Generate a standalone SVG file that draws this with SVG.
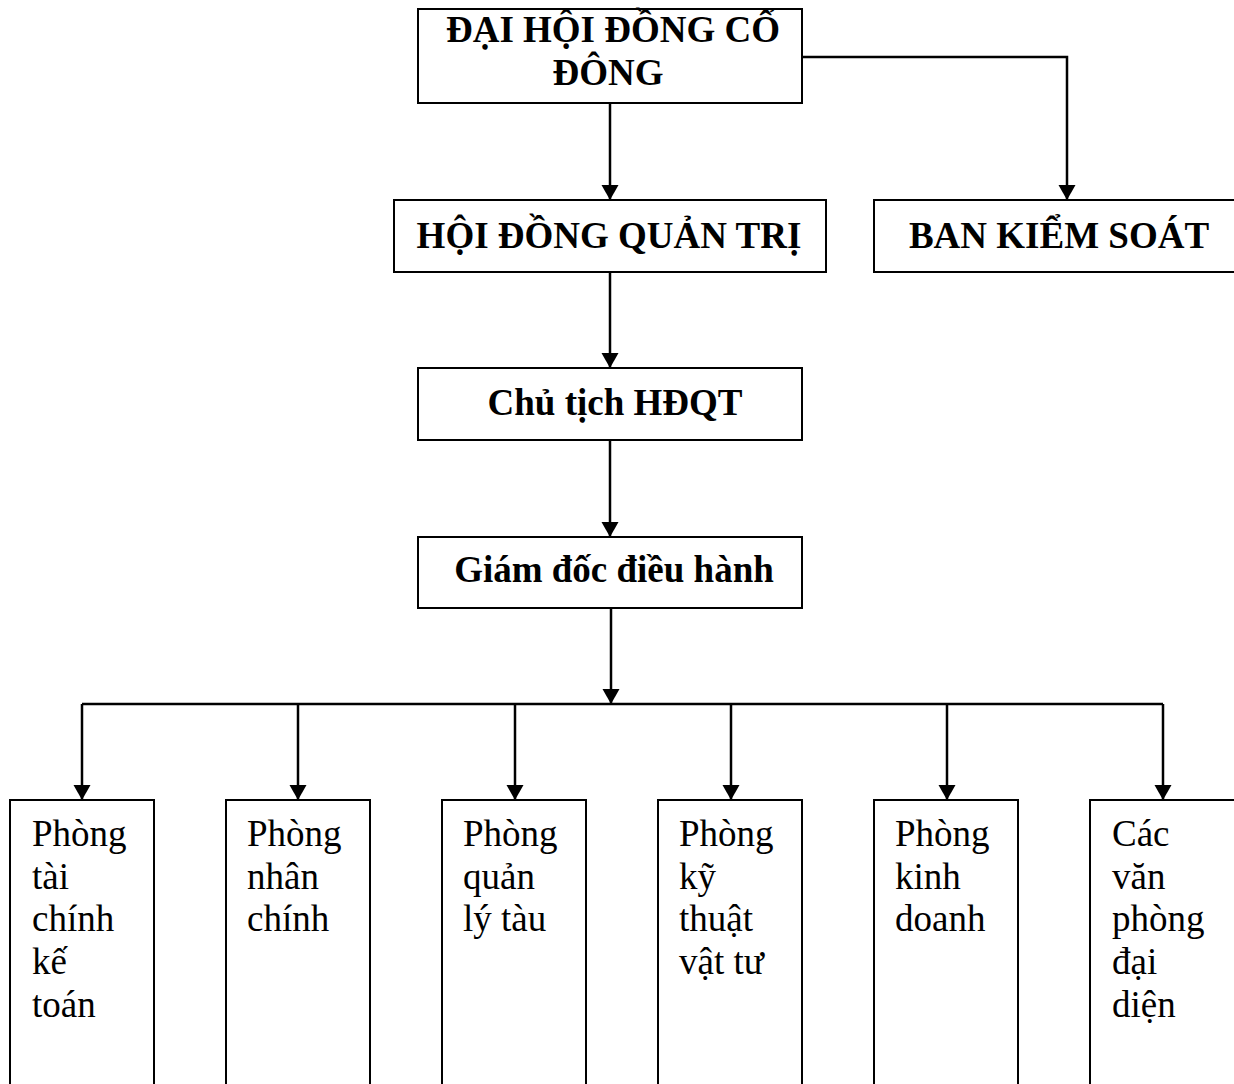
<svg xmlns="http://www.w3.org/2000/svg" width="1234" height="1084" viewBox="0 0 1234 1084">
<style>
.box{fill:#fff;stroke:#000;stroke-width:2}
.hd{font-family:"Liberation Serif","Times New Roman",serif;font-weight:bold;font-size:37px;fill:#000;text-anchor:middle}
.dp{font-family:"Liberation Serif","Times New Roman",serif;font-size:37px;fill:#000}
.ln{fill:none;stroke:#000;stroke-width:2.5}
.ar{fill:none;stroke:#000;stroke-width:2.5;marker-end:url(#ah)}
</style>
<defs>
<marker id="ah" markerUnits="userSpaceOnUse" markerWidth="16" markerHeight="18" refX="15" refY="8.5" orient="auto">
<path d="M0,0 L15,8.5 L0,17 z" fill="#000"/>
</marker>
</defs>
<rect width="1234" height="1084" fill="#fff"/>
<g id="connectors">
<path class="ar" d="M610,103 V200"/>
<path class="ar" d="M802,57 H1067 V200"/>
<path class="ar" d="M610,272 V368"/>
<path class="ar" d="M610,440 V537"/>
<path class="ar" d="M611,608 V704"/>
<path class="ln" d="M82,704 H1163"/>
<path class="ar" d="M82,704 V800"/>
<path class="ar" d="M298,704 V800"/>
<path class="ar" d="M515,704 V800"/>
<path class="ar" d="M731,704 V800"/>
<path class="ar" d="M947,704 V800"/>
<path class="ar" d="M1163,704 V800"/>
</g>
<g id="dhdcd">
<rect class="box" x="418" y="9" width="384" height="94"/>
<text class="hd" x="613" y="42">ĐẠI HỘI ĐỒNG CỔ</text>
<text class="hd" x="608" y="85">ĐÔNG</text>
</g>
<g id="hdqt">
<rect class="box" x="394" y="200" width="432" height="72"/>
<text class="hd" x="609" y="248">HỘI ĐỒNG QUẢN TRỊ</text>
</g>
<g id="bks">
<rect class="box" x="874" y="200" width="361" height="72"/>
<text class="hd" x="1059" y="248">BAN KIỂM SOÁT</text>
</g>
<g id="chutich">
<rect class="box" x="418" y="368" width="384" height="72"/>
<text class="hd" x="615" y="415">Chủ tịch HĐQT</text>
</g>
<g id="giamdoc">
<rect class="box" x="418" y="537" width="384" height="71"/>
<text class="hd" x="614" y="582">Giám đốc điều hành</text>
</g>
<g id="p1">
<rect class="box" x="10" y="800" width="144" height="300"/>
<text class="dp" x="32" y="846">Phòng</text>
<text class="dp" x="32" y="889">tài</text>
<text class="dp" x="32" y="931">chính</text>
<text class="dp" x="32" y="974">kế</text>
<text class="dp" x="32" y="1017">toán</text>
</g>
<g id="p2">
<rect class="box" x="226" y="800" width="144" height="300"/>
<text class="dp" x="247" y="846">Phòng</text>
<text class="dp" x="247" y="889">nhân</text>
<text class="dp" x="247" y="931">chính</text>
</g>
<g id="p3">
<rect class="box" x="442" y="800" width="144" height="300"/>
<text class="dp" x="463" y="846">Phòng</text>
<text class="dp" x="463" y="889">quản</text>
<text class="dp" x="463" y="931">lý tàu</text>
</g>
<g id="p4">
<rect class="box" x="658" y="800" width="144" height="300"/>
<text class="dp" x="679" y="846">Phòng</text>
<text class="dp" x="679" y="889">kỹ</text>
<text class="dp" x="679" y="931">thuật</text>
<text class="dp" x="679" y="974">vật tư</text>
</g>
<g id="p5">
<rect class="box" x="874" y="800" width="144" height="300"/>
<text class="dp" x="895" y="846">Phòng</text>
<text class="dp" x="895" y="889">kinh</text>
<text class="dp" x="895" y="931">doanh</text>
</g>
<g id="p6">
<rect class="box" x="1090" y="800" width="145" height="300"/>
<text class="dp" x="1112" y="846">Các</text>
<text class="dp" x="1112" y="889">văn</text>
<text class="dp" x="1112" y="931">phòng</text>
<text class="dp" x="1112" y="974">đại</text>
<text class="dp" x="1112" y="1017">diện</text>
</g>
</svg>
